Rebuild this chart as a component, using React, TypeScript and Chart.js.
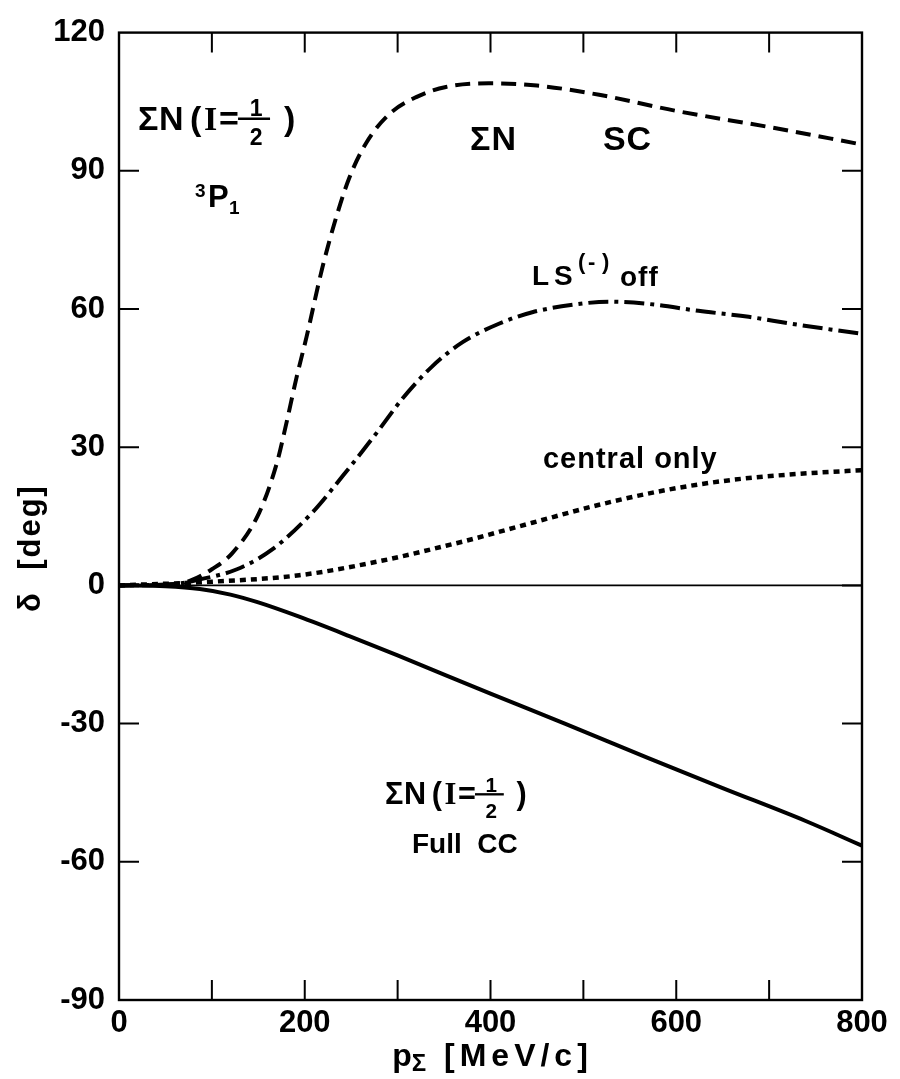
import React, { useEffect, useRef } from "react";
import { Chart, registerables } from "chart.js";

Chart.register(...registerables);

// ---- data ----
const scMomentum = [0, 40, 70, 80, 100, 122, 151, 170, 180, 191, 202, 219, 234, 248, 266, 291, 320, 352, 398, 450, 517, 600, 700, 800];
const scPhase = [0, 0.1, 0.6, 1.3, 3.5, 7, 15.8, 26.6, 35, 45, 54, 69, 80, 88.5, 96, 102.3, 106, 108.2, 109, 108.5, 106.5, 103, 99.5, 95.7];

const lsOffMomentum = [0, 60, 87, 127, 165, 208, 241, 277, 305, 337, 370, 409, 445, 492, 527, 570, 624, 678, 724, 800];
const lsOffPhase = [0, 0.3, 1.3, 3.5, 7.8, 15.8, 23.8, 33, 40.5, 47.5, 52.8, 56.8, 59.3, 61, 61.6, 61.1, 59.6, 58.3, 56.8, 54.6];

const centralMomentum = [0, 100, 194, 284, 352, 374, 445, 517, 589, 660, 731, 800];
const centralPhase = [0, 0.8, 2.2, 5.4, 8.6, 9.7, 13.6, 17.5, 20.7, 22.9, 24.2, 25];

const fullCCMomentum = [0, 50, 87, 120, 150, 194, 248, 300, 400, 480, 570, 650, 740, 800];
const fullCCPhase = [0, -0.2, -0.8, -2, -3.7, -6.8, -11, -15.2, -23.5, -30, -37.5, -44, -51.2, -56.5];

const xTickValues = [0, 100, 200, 300, 400, 500, 600, 700, 800];
const xLabelValues = [0, 200, 400, 600, 800];
const yTickValues = [-90, -60, -30, 0, 30, 60, 90, 120];

const FONT = '"Liberation Sans", Arial, sans-serif';
const SERIF = '"Liberation Serif", serif';

function pts(xs: number[], ys: number[]) {
  return xs.map((x, i) => ({ x, y: ys[i] }));
}

function put(
  ctx: CanvasRenderingContext2D,
  s: string,
  x: number,
  y: number,
  size: number,
  align: CanvasTextAlign = "left",
  family = FONT,
  spacing = 0
) {
  ctx.font = `bold ${size}px ${family}`;
  (ctx as any).letterSpacing = `${spacing}px`;
  ctx.textAlign = align;
  ctx.textBaseline = "alphabetic";
  ctx.fillText(s, x, y);
  const w = ctx.measureText(s).width;
  (ctx as any).letterSpacing = "0px";
  return w;
}

function sigmaLabel(ctx: CanvasRenderingContext2D, x: number, y: number, k: number) {
  const s = 34 * k;
  put(ctx, "\u03A3", x, y, s);
  put(ctx, "N", x + 21 * k, y, s);
  put(ctx, "(", x + 52 * k, y, s);
  put(ctx, "I", x + 66 * k, y, s, "left", SERIF);
  put(ctx, "=", x + 81 * k, y, s);
  ctx.lineWidth = 2.6 * k;
  ctx.beginPath();
  ctx.moveTo(x + 100 * k, y - 11 * k);
  ctx.lineTo(x + 132 * k, y - 11 * k);
  ctx.stroke();
  put(ctx, "1", x + 118 * k, y - 14 * k, 23 * k, "center");
  put(ctx, "2", x + 118 * k, y + 15 * k, 23 * k, "center");
  put(ctx, ")", x + 146 * k, y, s);
}

const framePlugin = {
  id: "frameAndText",
  afterDraw(chart: any) {
    const ctx: CanvasRenderingContext2D = chart.ctx;
    const { left, right, top, bottom } = chart.chartArea;
    const xs = chart.scales.x;
    const ys = chart.scales.y;
    const X = (v: number) => xs.getPixelForValue(v);
    const Y = (v: number) => ys.getPixelForValue(v);
    ctx.save();
    ctx.strokeStyle = "#000";
    ctx.fillStyle = "#000";
    // frame
    ctx.lineWidth = 2.4;
    ctx.strokeRect(left, top, right - left, bottom - top);
    // inward ticks
    ctx.lineWidth = 2;
    const TL = 20;
    ctx.beginPath();
    xTickValues.forEach((v) => {
      if (v === 0 || v === 800) return;
      const p = X(v);
      ctx.moveTo(p, bottom);
      ctx.lineTo(p, bottom - TL);
      ctx.moveTo(p, top);
      ctx.lineTo(p, top + TL);
    });
    yTickValues.forEach((v) => {
      if (v === -90 || v === 120) return;
      const p = Y(v);
      ctx.moveTo(left, p);
      ctx.lineTo(left + TL, p);
      ctx.moveTo(right, p);
      ctx.lineTo(right - TL, p);
    });
    ctx.stroke();
    // zero line
    ctx.lineWidth = 1.6;
    ctx.beginPath();
    ctx.moveTo(left, Y(0));
    ctx.lineTo(right, Y(0));
    ctx.stroke();

    // annotations
    sigmaLabel(ctx, X(20.5), Y(98.9), 1);
    put(ctx, "3", X(95.8) - 13, Y(82.1) - 10, 19);
    put(ctx, "P", X(95.8), Y(82.1), 31);
    put(ctx, "1", X(95.8) + 21, Y(82.1) + 7, 19);

    put(ctx, "\u03A3N", X(378), Y(94.6), 34, "left", FONT, 1);
    put(ctx, "SC", X(521), Y(94.6), 34, "left", FONT, 1);

    const lx = X(444.7);
    const ly = Y(65.2);
    put(ctx, "L", lx, ly, 28);
    put(ctx, "S", lx + 22, ly, 28);
    put(ctx, "(", lx + 46, ly - 16, 22);
    put(ctx, "-", lx + 56, ly - 16, 22);
    put(ctx, ")", lx + 70, ly - 16, 22);
    put(ctx, "off", lx + 88, ly + 1, 28, "left", FONT, 1);

    put(ctx, "central only", X(456.5), Y(25.5), 29, "left", FONT, 1);

    sigmaLabel(ctx, X(286.4), Y(-47.5), 0.9);
    put(ctx, "Full  CC", X(315.5), Y(-58.1), 28);

    // axis titles
    const cx = (left + right) / 2;
    ctx.font = `bold 32px ${FONT}`;
    const w1 = ctx.measureText("p").width;
    ctx.font = `bold 24px ${FONT}`;
    const w2 = ctx.measureText("\u03A3").width;
    ctx.font = `bold 32px ${FONT}`;
    (ctx as any).letterSpacing = "5px";
    const w3 = ctx.measureText(" [MeV/c]").width;
    (ctx as any).letterSpacing = "0px";
    const sx = cx - (w1 + w2 + w3) / 2;
    put(ctx, "p", sx, 1066, 32);
    put(ctx, "\u03A3", sx + w1, 1071, 24);
    put(ctx, " [MeV/c]", sx + w1 + w2 + 4, 1066, 32, "left", FONT, 5);

    ctx.translate(40, 548);
    ctx.rotate(-Math.PI / 2);
    put(ctx, "\u03B4  [deg]", 0, 0, 31, "center", FONT, 2);
    ctx.restore();
  },
};

export default function App() {
  const ref = useRef<HTMLCanvasElement | null>(null);
  useEffect(() => {
    if (!ref.current) return;
    const common = {
      pointRadius: 0,
      borderColor: "#000",
      backgroundColor: "#000",
      fill: false,
      cubicInterpolationMode: "monotone" as const,
    };
    const chart = new Chart(ref.current, {
      type: "line",
      data: {
        datasets: [
          { label: "ΣN SC", data: pts(scMomentum, scPhase), borderWidth: 4, borderDash: [15, 8], ...common },
          { label: "LS(-) off", data: pts(lsOffMomentum, lsOffPhase), borderWidth: 4, borderDash: [20, 6, 4, 6], ...common },
          { label: "central only", data: pts(centralMomentum, centralPhase), borderWidth: 4.5, borderDash: [6, 5], ...common },
          { label: "Full CC", data: pts(fullCCMomentum, fullCCPhase), borderWidth: 4, ...common },
        ],
      },
      options: {
        animation: false,
        responsive: true,
        maintainAspectRatio: false,
        layout: { padding: { top: 28, right: 38, left: 0, bottom: 0 } },
        plugins: { legend: { display: false }, tooltip: { enabled: false } },
        scales: {
          x: {
            type: "linear",
            min: 0,
            max: 800,
            afterBuildTicks: (s: any) => {
              s.ticks = xTickValues.map((v) => ({ value: v }));
            },
            afterFit: (s: any) => {
              s.height = 79;
            },
            ticks: {
              callback: (v: any) => (xLabelValues.includes(Number(v)) ? String(v) : ""),
              font: { size: 31, family: FONT, weight: "bold" },
              color: "#000",
              padding: 5,
              maxRotation: 0,
              autoSkip: false,
            },
            grid: { display: false, drawTicks: false },
            border: { display: false },
          },
          y: {
            type: "linear",
            min: -90,
            max: 120,
            afterBuildTicks: (s: any) => {
              s.ticks = yTickValues.map((v) => ({ value: v }));
            },
            afterFit: (s: any) => {
              s.width = 119;
            },
            ticks: {
              font: { size: 31, family: FONT, weight: "bold" },
              color: "#000",
              padding: 14,
              autoSkip: false,
            },
            grid: { display: false, drawTicks: false },
            border: { display: false },
          },
        },
      },
      plugins: [framePlugin],
    });
    return () => chart.destroy();
  }, []);
  return (
    <div style={{ position: "absolute", left: 0, top: 0, width: 900, height: 1079, background: "#fff" }}>
      <canvas ref={ref} />
    </div>
  );
}
